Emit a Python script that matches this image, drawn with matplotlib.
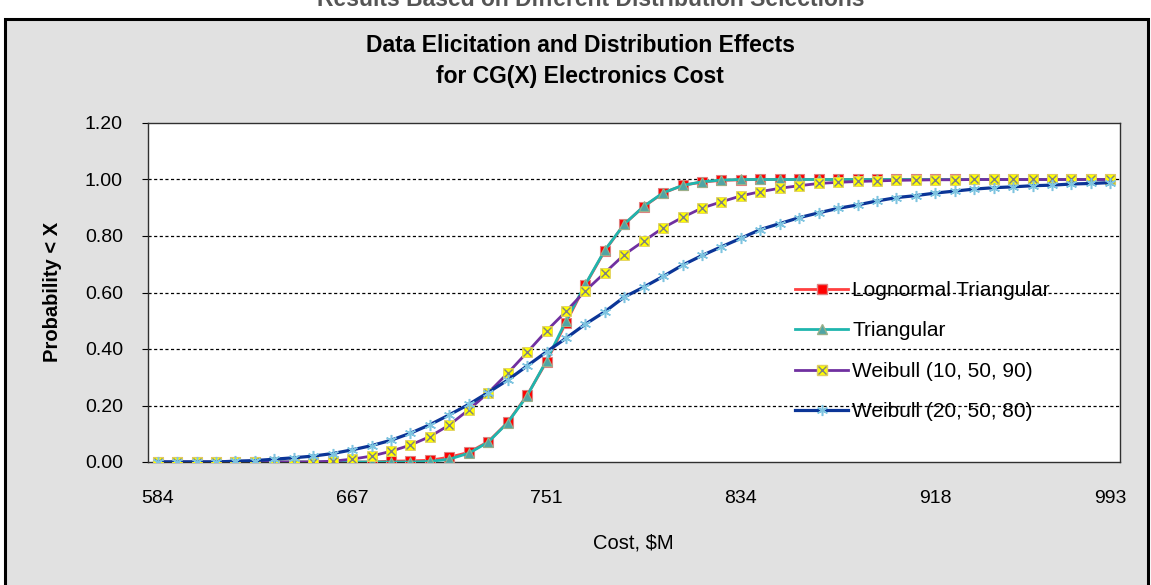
import matplotlib
matplotlib.use("Agg")
import matplotlib.pyplot as plt
from matplotlib.patches import Rectangle
from matplotlib.lines import Line2D
from matplotlib.legend_handler import HandlerTuple

plt.rcParams['font.family'] = ['Liberation Sans', 'DejaVu Sans']

# ---------------- data ----------------
cost_points = [584.0, 592.3, 600.7, 609.0, 617.4, 625.7, 634.1, 642.4, 650.8, 659.1,
               667.4, 675.8, 684.2, 692.5, 700.9, 709.2, 717.6, 725.9, 734.2, 742.6,
               750.9, 759.3, 767.6, 776.0, 784.3, 792.7, 801.0, 809.4, 817.7, 826.1,
               834.4, 842.7, 851.1, 859.4, 867.8, 876.1, 884.5, 892.8, 901.2, 909.5,
               917.9, 926.2, 934.6, 942.9, 951.3, 959.6, 968.0, 976.3, 984.6, 993.0]
label_index = [0, 10, 20, 30, 40, 49]

lognormal_triangular = [0, 0, 0, 0, 0, 0, 0, 0, 0, 0,
                        0, 0, 0.003, 0.004, 0.006, 0.017, 0.034, 0.072, 0.140, 0.236,
                        0.355, 0.493, 0.627, 0.748, 0.842, 0.904, 0.952, 0.979, 0.991, 0.997,
                        0.999, 1, 1, 1, 1, 1, 1, 1, 1, 1,
                        1, 1, 1, 1, 1, 1, 1, 1, 1, 1]
triangular = [0, 0, 0, 0, 0, 0, 0, 0, 0, 0,
              0, 0, 0, 0, 0.002, 0.010, 0.031, 0.070, 0.139, 0.234,
              0.359, 0.499, 0.629, 0.750, 0.842, 0.905, 0.953, 0.979, 0.992, 0.998,
              1, 1, 1, 1, 1, 1, 1, 1, 1, 1,
              1, 1, 1, 1, 1, 1, 1, 1, 1, 1]
weibull_10_50_90 = [0, 0, 0, 0, 0, 0, 0, 0, 0, 0.003,
                    0.010, 0.021, 0.038, 0.060, 0.090, 0.131, 0.185, 0.245, 0.314, 0.388,
                    0.464, 0.533, 0.606, 0.670, 0.734, 0.782, 0.829, 0.866, 0.899, 0.921,
                    0.942, 0.957, 0.969, 0.978, 0.986, 0.990, 0.993, 0.995, 0.997, 0.998,
                    0.999, 0.999, 1, 1, 1, 1, 1, 1, 1, 1]
weibull_20_50_80 = [0, 0, 0, 0, 0.003, 0.005, 0.010, 0.015, 0.021, 0.030,
                    0.043, 0.058, 0.077, 0.102, 0.132, 0.167, 0.204, 0.246, 0.290, 0.340,
                    0.390, 0.438, 0.488, 0.532, 0.584, 0.619, 0.657, 0.697, 0.731, 0.762,
                    0.792, 0.823, 0.844, 0.865, 0.882, 0.898, 0.910, 0.924, 0.936, 0.943,
                    0.952, 0.959, 0.966, 0.971, 0.974, 0.978, 0.980, 0.984, 0.986, 0.989]

series_names = ["Lognormal Triangular", "Triangular",
                "Weibull (10, 50, 90)", "Weibull (20, 50, 80)"]
y_ticks = [0.0, 0.2, 0.4, 0.6, 0.8, 1.0, 1.2]

# ---------------- figure ----------------
W, H = 1151, 585
fig = plt.figure(figsize=(W / 100, H / 100), dpi=100, facecolor='white')

def fx(px):
    return px / W

def fy(py):
    return 1 - py / H

# chart area background with border
fig.patches.append(Rectangle((fx(5), fy(600)), fx(1143), (600 - 19) / H,
                             transform=fig.transFigure, facecolor='#e1e1e1',
                             edgecolor='black', linewidth=2.2, zorder=-5))

# cut-off text at very top (previous title)
fig.text(fx(591), fy(6), "Results Based on Different Distribution Selections",
         ha='center', va='baseline', fontsize=16.5, fontweight='bold', color='#555555',
         zorder=-4)

ax = fig.add_axes([fx(148), fy(462), fx(1120 - 148), (462 - 123) / H])
ax.set_zorder(2)
ax.set_facecolor('white')

x = list(range(len(cost_points)))

MS = 6.5
ax.plot(x, lognormal_triangular, color='#ff4040', lw=2.0, marker='s', ms=MS,
        mfc='#ff0000', mec='#e08080', mew=0.8, zorder=3)
ax.plot(x, triangular, color='#1fb5ae', lw=2.0, marker='^', ms=MS,
        mfc='#4fa5a5', mec='#9ab08a', mew=0.8, zorder=4)
ax.plot(x, weibull_10_50_90, color='#7030a0', lw=2.0, marker='s', ms=MS + 0.5,
        mfc='#ffff00', mec='#e0d060', mew=0.6, zorder=5)
ax.plot(x, weibull_10_50_90, ls='none', marker='x', ms=MS - 0.7, mec='#808080', mew=1.0,
        zorder=5.1)
ax.plot(x, weibull_20_50_80, color='#0b3597', lw=2.3, zorder=6)
ax.plot(x, weibull_20_50_80, ls='none', marker=(6, 2, 0), ms=MS + 1.5, mec='#7ec4e0',
        mew=1.1, zorder=6.1)

ax.set_xlim(-0.5, len(cost_points) - 0.5)
ax.set_ylim(0, 1.2)
ax.set_xticks(label_index)
ax.set_xticklabels([f"{cost_points[i]:.0f}" for i in label_index])
ax.set_yticks(y_ticks)
ax.set_yticklabels([f"{v:.2f}" for v in y_ticks])
ax.tick_params(axis='x', length=0, pad=20, labelsize=14, colors='black')
ax.tick_params(axis='y', length=4, pad=14, labelsize=14, colors='black',
               direction='out', width=0.8)

for v in y_ticks[1:-1]:
    ax.axhline(v, color='black', lw=0.9, ls=(0, (2.5, 2)), zorder=1)

for s in ax.spines.values():
    s.set_color('#303030')
    s.set_linewidth(1.0)

# legend
h1 = Line2D([], [], color='#ff4040', lw=2.0, marker='s', ms=MS, mfc='#ff0000', mec='#e08080')
h2 = Line2D([], [], color='#1fb5ae', lw=2.0, marker='^', ms=MS, mfc='#4fa5a5', mec='#9ab08a')
h3a = Line2D([], [], color='#7030a0', lw=2.0, marker='s', ms=MS + 0.5, mfc='#ffff00',
             mec='#e0d060')
h3b = Line2D([], [], ls='none', marker='x', ms=MS - 0.7, mec='#808080', mew=1.0)
h4a = Line2D([], [], color='#0b3597', lw=2.3)
h4b = Line2D([], [], ls='none', marker=(6, 2, 0), ms=MS + 1.5, mec='#7ec4e0', mew=1.1)
leg = ax.legend([h1, h2, (h3a, h3b), (h4a, h4b)], series_names,
                handler_map={tuple: HandlerTuple(ndivide=1)},
                loc='upper left', bbox_to_anchor=((795 - 148) / 972, (462 - 281) / 339),
                frameon=False, fontsize=15, handlelength=2.55, handletextpad=0.2,
                labelspacing=1.03, borderaxespad=0, borderpad=0)
leg.set_zorder(2)

# titles and axis labels
fig.text(fx(580), fy(46), "Data Elicitation and Distribution Effects",
         ha='center', va='center', fontsize=16.5, fontweight='bold')
fig.text(fx(580), fy(76), "for CG(X) Electronics Cost",
         ha='center', va='center', fontsize=16.5, fontweight='bold')
fig.text(fx(52), fy(292), "Probability < X", rotation=90, ha='center', va='center',
         fontsize=14.5, fontweight='bold')
fig.text(fx(633), fy(543), "Cost, $M", ha='center', va='center', fontsize=14.5)

fig.savefig("out.png", dpi=100, facecolor='white')
